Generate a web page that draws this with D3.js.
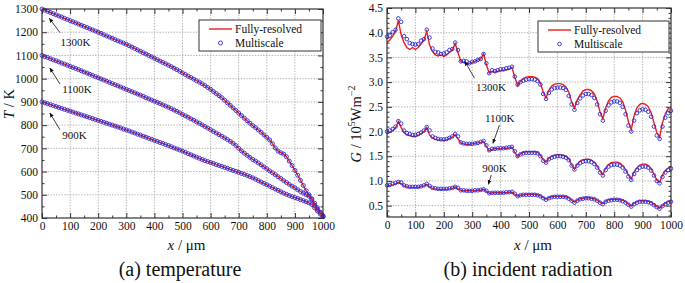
<!DOCTYPE html>
<html>
<head>
<meta charset="utf-8">
<script src="https://cdn.jsdelivr.net/npm/d3@7"></script>
<style>
  body { margin: 0; background: #fff; }
  svg { display: block; }
  svg text { font-family: "Liberation Serif", "Times New Roman", "DejaVu Serif", serif; }
</style>
</head>
<body>
<svg width="685" height="283"></svg>
<script>
// sample positions (um)
const xPos = [0,10,20,30,40,50,60,70,80,90,100,110,120,130,140,150,160,170,180,190,
  200,210,220,230,240,250,260,270,280,290,300,310,320,330,340,350,360,370,380,390,
  400,410,420,430,440,450,460,470,480,490,500,510,520,530,540,550,560,570,580,590,
  600,610,620,630,640,650,660,670,680,690,700,710,720,730,740,750,760,770,780,790,
  800,810,820,830,840,850,860,870,880,890,900,910,920,930,940,950,960,970,980,990,1000];

const xTicks = [0,100,200,300,400,500,600,700,800,900,1000];
const xMinor = [50,150,250,350,450,550,650,750,850,950];
const tTicks = [400,500,600,700,800,900,1000,1100,1200,1300];
const tMinor = [450,550,650,750,850,950,1050,1150,1250];
const gTicks = [0.5,1.0,1.5,2.0,2.5,3.0,3.5,4.0,4.5];
const gMinor = [0.3,0.4,0.6,0.7,0.8,0.9,1.1,1.2,1.3,1.4,1.6,1.7,1.8,1.9,2.1,2.2,2.3,2.4,
  2.6,2.7,2.8,2.9,3.1,3.2,3.3,3.4,3.6,3.7,3.8,3.9,4.1,4.2,4.3,4.4];

// (a) temperature, K  (fully-resolved and multiscale overlap)
const T1300 = [1300,1295,1290,1285,1280,1275,1270,1265,1260,1255,
  1250,1245,1240,1235,1230,1225,1220,1215,1210,1205,
  1200,1195,1189,1184,1179,1174,1168,1163,1158,1153,
  1148,1142,1136,1130,1124,1118,1112,1106,1100,1094,
  1088,1082,1076,1070,1064,1058,1052,1045,1039,1032,
  1025,1018,1011,1005,998,991,985,978,970,962,
  954,945,936,927,918,907,896,885,874,863,
  852,841,830,819,808,798,789,779,769,758,
  747,736,720,702,688,681,675,664,645,626,
  605,584,562,540,518,500,483,464,445,425,
  406];
const T1100 = [1100,1095,1091,1086,1081,1077,1072,1067,1063,1058,
  1053,1048,1044,1039,1034,1029,1024,1019,1014,1009,
  1004,999,994,989,984,979,974,969,964,959,
  954,949,944,939,934,929,924,918,913,908,
  903,898,893,887,882,877,871,865,859,853,
  846,840,834,827,821,814,808,801,794,787,
  780,773,766,759,752,745,738,730,722,712,
  700,689,679,670,661,652,645,637,629,620,
  612,603,595,587,578,570,561,553,545,537,
  530,522,514,507,500,494,480,455,438,424,
  410];
const T900 = [900,896,892,888,884,880,876,872,868,864,
  860,856,852,848,844,840,836,832,828,824,
  820,816,812,808,804,800,796,792,788,783,
  779,775,770,766,761,757,752,748,743,739,
  734,730,725,721,716,712,707,702,697,693,
  688,683,677,672,667,662,657,652,647,643,
  639,635,630,626,622,618,614,609,605,601,
  597,592,588,583,578,573,567,561,555,549,
  543,537,531,525,519,513,507,502,497,492,
  488,484,479,475,470,465,458,444,430,417,
  405];

// (b) incident radiation, 10^5 W/m2
const G1300Full = [3.80,3.85,3.93,4.02,4.25,3.95,3.80,3.70,3.66,3.70,
  3.66,3.70,3.77,3.85,4.03,3.75,3.62,3.55,3.53,3.55,
  3.52,3.55,3.60,3.65,3.78,3.60,3.42,3.40,3.36,3.38,
  3.40,3.42,3.45,3.47,3.57,3.35,3.18,3.22,3.20,3.22,
  3.23,3.24,3.25,3.26,3.30,3.10,2.93,3.02,3.07,3.10,
  3.11,3.11,3.10,3.07,2.98,2.80,2.68,2.84,2.92,2.96,
  2.97,2.97,2.95,2.90,2.80,2.60,2.47,2.64,2.74,2.82,
  2.85,2.85,2.83,2.76,2.62,2.40,2.26,2.48,2.62,2.69,
  2.71,2.71,2.68,2.60,2.43,2.20,2.04,2.32,2.48,2.55,
  2.57,2.55,2.50,2.38,2.18,1.98,1.88,2.18,2.36,2.46,
  2.50];
const G1300Multi = [3.92,3.94,4.01,4.06,4.29,4.22,3.93,3.87,3.79,3.77,
  3.76,3.77,3.84,3.87,4.06,3.90,3.68,3.61,3.60,3.57,
  3.58,3.60,3.65,3.67,3.80,3.65,3.42,3.43,3.42,3.38,
  3.41,3.42,3.45,3.47,3.57,3.38,3.18,3.24,3.22,3.24,
  3.26,3.26,3.28,3.29,3.31,3.11,2.95,3.00,3.03,3.05,
  3.06,3.06,3.05,3.02,2.95,2.76,2.66,2.78,2.85,2.88,
  2.89,2.89,2.88,2.84,2.72,2.55,2.44,2.58,2.67,2.73,
  2.76,2.76,2.74,2.68,2.55,2.35,2.22,2.42,2.53,2.59,
  2.61,2.61,2.58,2.50,2.35,2.12,2.00,2.22,2.37,2.43,
  2.45,2.44,2.40,2.30,2.10,1.92,1.85,2.10,2.28,2.37,
  2.42];
const G1100Full = [1.95,1.98,2.02,2.07,2.20,2.08,1.98,1.93,1.92,1.90,
  1.90,1.92,1.96,2.00,2.08,1.93,1.87,1.84,1.83,1.83,
  1.82,1.83,1.86,1.89,1.94,1.85,1.77,1.75,1.74,1.74,
  1.75,1.76,1.77,1.78,1.80,1.70,1.61,1.64,1.65,1.65,
  1.65,1.66,1.66,1.67,1.68,1.58,1.49,1.55,1.58,1.59,
  1.59,1.59,1.59,1.58,1.52,1.43,1.38,1.46,1.50,1.52,
  1.53,1.53,1.52,1.50,1.45,1.33,1.24,1.34,1.40,1.43,
  1.44,1.44,1.42,1.38,1.30,1.20,1.13,1.26,1.33,1.37,
  1.38,1.38,1.36,1.31,1.23,1.12,1.04,1.18,1.27,1.32,
  1.34,1.34,1.31,1.25,1.14,1.02,0.97,1.12,1.21,1.26,
  1.29];
const G1100Multi = [2.00,2.02,2.05,2.10,2.21,2.16,2.02,1.97,1.95,1.93,
  1.93,1.95,1.98,2.02,2.09,2.02,1.90,1.87,1.85,1.84,
  1.84,1.85,1.87,1.90,1.95,1.90,1.78,1.76,1.75,1.75,
  1.75,1.76,1.77,1.79,1.81,1.72,1.62,1.65,1.65,1.66,
  1.66,1.66,1.67,1.68,1.69,1.60,1.50,1.54,1.56,1.57,
  1.57,1.57,1.57,1.56,1.50,1.41,1.37,1.44,1.47,1.49,
  1.50,1.50,1.49,1.47,1.42,1.31,1.23,1.31,1.36,1.39,
  1.40,1.40,1.38,1.34,1.27,1.17,1.11,1.22,1.29,1.32,
  1.33,1.33,1.31,1.27,1.19,1.09,1.02,1.14,1.22,1.27,
  1.29,1.29,1.27,1.21,1.11,1.00,0.95,1.08,1.17,1.22,
  1.25];
const G900Full = [0.90,0.91,0.92,0.94,0.97,0.94,0.90,0.88,0.87,0.87,
  0.87,0.87,0.89,0.90,0.93,0.88,0.85,0.84,0.83,0.83,
  0.83,0.83,0.84,0.85,0.88,0.84,0.81,0.80,0.80,0.80,
  0.80,0.80,0.81,0.81,0.83,0.79,0.75,0.76,0.76,0.76,
  0.76,0.76,0.76,0.77,0.77,0.73,0.69,0.71,0.72,0.73,
  0.73,0.73,0.73,0.72,0.70,0.66,0.63,0.66,0.68,0.69,
  0.69,0.69,0.69,0.68,0.66,0.61,0.57,0.61,0.64,0.65,
  0.66,0.66,0.65,0.64,0.61,0.57,0.54,0.59,0.62,0.63,
  0.63,0.63,0.62,0.61,0.58,0.53,0.49,0.55,0.58,0.60,
  0.60,0.60,0.59,0.57,0.53,0.48,0.45,0.50,0.55,0.58,
  0.60];
const G900Multi = [0.91,0.92,0.94,0.96,0.98,0.97,0.91,0.89,0.88,0.88,
  0.88,0.88,0.89,0.91,0.94,0.90,0.86,0.85,0.84,0.84,
  0.84,0.84,0.85,0.86,0.88,0.86,0.81,0.81,0.80,0.80,
  0.80,0.81,0.81,0.82,0.83,0.80,0.75,0.76,0.76,0.76,
  0.76,0.76,0.77,0.77,0.78,0.74,0.69,0.71,0.72,0.72,
  0.72,0.72,0.72,0.71,0.69,0.65,0.62,0.65,0.67,0.68,
  0.68,0.68,0.68,0.67,0.64,0.60,0.56,0.60,0.63,0.64,
  0.65,0.65,0.64,0.63,0.60,0.56,0.53,0.58,0.60,0.61,
  0.62,0.62,0.61,0.59,0.56,0.52,0.48,0.53,0.56,0.58,
  0.58,0.58,0.57,0.55,0.51,0.47,0.44,0.49,0.53,0.56,
  0.58];

const legendNames = ['Fully-resolved', 'Multiscale'];
const RED = '#ee1c1c', BLUE = '#2b2bd6', AXIS = '#333';
const SERIF = 'Liberation Serif';

const svg = d3.select('svg');

svg.append('defs').append('marker')
    .attr('id', 'arrow')
    .attr('viewBox', '0 0 10 10')
    .attr('refX', 9).attr('refY', 5)
    .attr('markerWidth', 6).attr('markerHeight', 6)
    .attr('orient', 'auto')
  .append('path')
    .attr('d', 'M0,1 L10,5 L0,9 Z')
    .attr('fill', '#111');

const drawPanel = p => {
    const xScale = d3.scaleLinear().domain([0, 1000]).range([p.left, p.right]);
    const yScale = d3.scaleLinear().domain(p.yDomain).range([p.bottom, p.top]);
    const g = svg.append('g').attr('font-family', SERIF);

    // dotted grid
    g.append('g').selectAll('line')
        .data(xTicks.slice(1, -1))
        .enter().append('line')
            .attr('x1', d => xScale(d)).attr('x2', d => xScale(d))
            .attr('y1', p.top).attr('y2', p.bottom);
    g.append('g').selectAll('line')
        .data(p.yGrid)
        .enter().append('line')
            .attr('x1', p.left).attr('x2', p.right)
            .attr('y1', d => yScale(d)).attr('y2', d => yScale(d));
    g.selectAll('line')
        .attr('stroke', '#a0a0a0')
        .attr('stroke-width', 0.8)
        .attr('stroke-dasharray', '1.4,1.4');

    // axes, ticks pointing inward on all four sides
    const axes = [
        [d3.axisBottom(xScale).tickValues(xTicks).tickFormat(d3.format('d')), `translate(0,${p.bottom})`, -5],
        [d3.axisBottom(xScale).tickValues(xMinor).tickFormat(''), `translate(0,${p.bottom})`, -2.5],
        [d3.axisTop(xScale).tickValues(xTicks).tickFormat(''), `translate(0,${p.top})`, -5],
        [d3.axisTop(xScale).tickValues(xMinor).tickFormat(''), `translate(0,${p.top})`, -2.5],
        [d3.axisLeft(yScale).tickValues(p.yTicks).tickFormat(p.yFormat), `translate(${p.left},0)`, -5],
        [d3.axisLeft(yScale).tickValues(p.yMinor).tickFormat(''), `translate(${p.left},0)`, -2.5],
        [d3.axisRight(yScale).tickValues(p.yTicks).tickFormat(''), `translate(${p.right},0)`, -5],
        [d3.axisRight(yScale).tickValues(p.yMinor).tickFormat(''), `translate(${p.right},0)`, -2.5]
    ];
    axes.forEach(([axis, tr, size]) => {
        const a = g.append('g')
            .attr('transform', tr)
            .call(axis.tickSize(size).tickPadding(4));
        a.select('.domain').remove();
        a.selectAll('line').attr('stroke', AXIS).attr('stroke-width', 1);
        a.attr('font-family', SERIF).attr('font-size', 11.5)
            .selectAll('text').attr('fill', '#111');
    });

    // lines, then hollow markers on top
    const line = d3.line()
        .x((d, i) => xScale(xPos[i]))
        .y(d => yScale(d));

    p.series.forEach(s => {
        g.append('path')
            .datum(s.full)
            .attr('d', line)
            .attr('fill', 'none')
            .attr('stroke', RED)
            .attr('stroke-width', 1.4);
        g.append('g').selectAll('circle')
            .data(s.multi)
            .enter().append('circle')
                .attr('cx', (d, i) => xScale(xPos[i]))
                .attr('cy', d => yScale(d))
                .attr('r', p.r)
                .attr('fill', 'none')
                .attr('stroke', BLUE)
                .attr('stroke-width', 0.9);
    });

    // frame
    g.append('rect')
        .attr('x', p.left).attr('y', p.top)
        .attr('width', p.right - p.left).attr('height', p.bottom - p.top)
        .attr('fill', 'none')
        .attr('stroke', AXIS)
        .attr('stroke-width', 1.2);

    // annotations
    p.notes.forEach(n => {
        g.append('line')
            .attr('x1', xScale(n.from[0])).attr('y1', yScale(n.from[1]))
            .attr('x2', xScale(n.to[0])).attr('y2', yScale(n.to[1]))
            .attr('stroke', '#111')
            .attr('stroke-width', 0.8)
            .attr('marker-end', 'url(#arrow)');
        g.append('text')
            .attr('x', xScale(n.at[0])).attr('y', yScale(n.at[1]))
            .attr('font-size', 11)
            .attr('fill', '#111')
            .text(n.label);
    });

    // legend
    const lg = g.append('g')
        .attr('transform', `translate(${p.legend[0]},${p.legend[1]})`);
    lg.append('rect')
        .attr('width', p.legend[2]).attr('height', 31)
        .attr('fill', '#fff')
        .attr('stroke', AXIS)
        .attr('stroke-width', 1);
    lg.append('line')
        .attr('x1', 10).attr('x2', 33)
        .attr('y1', 9).attr('y2', 9)
        .attr('stroke', RED).attr('stroke-width', 1.4);
    lg.append('circle')
        .attr('cx', 21.5).attr('cy', 23)
        .attr('r', p.r)
        .attr('fill', 'none')
        .attr('stroke', BLUE).attr('stroke-width', 0.9);
    lg.selectAll('text')
        .data(legendNames)
        .enter().append('text')
            .attr('x', 36)
            .attr('y', (d, i) => 12.5 + i * 14)
            .attr('font-size', 11.5)
            .attr('fill', '#111')
            .text(d => d);

    // x axis title
    const xt = g.append('text')
        .attr('x', (p.left + p.right) / 2 + 4)
        .attr('y', 250)
        .attr('text-anchor', 'middle')
        .attr('font-size', 15)
        .attr('fill', '#111');
    xt.append('tspan').attr('font-style', 'italic').text('x');
    xt.append('tspan').text(' / \u03bcm');

    // y axis title
    const yt = g.append('text')
        .attr('transform', `translate(${p.yLabelX},${p.yLabelY}) rotate(-90)`)
        .attr('text-anchor', 'middle')
        .attr('font-size', 14.5)
        .attr('fill', '#111');
    p.yLabel(yt);

    // caption
    g.append('text')
        .attr('x', p.captionX).attr('y', 276)
        .attr('text-anchor', 'middle')
        .attr('font-size', 20)
        .attr('fill', '#111')
        .text(p.caption);
};

drawPanel({
    left: 42, right: 323, top: 9, bottom: 218,
    yDomain: [400, 1300],
    yTicks: tTicks, yMinor: tMinor, yGrid: tTicks.slice(1, -1),
    yFormat: d3.format('d'),
    r: 2,
    series: [
        {full: T1300, multi: T1300},
        {full: T1100, multi: T1100},
        {full: T900, multi: T900}
    ],
    notes: [
        {label: '1300K', at: [66, 1142], from: [64, 1198], to: [26, 1260]},
        {label: '1100K', at: [72, 937], from: [64, 977], to: [28, 1046]},
        {label: '900K', at: [72, 740], from: [64, 780], to: [28, 852]}
    ],
    legend: [199, 20, 122],
    yLabelX: 14, yLabelY: 104,
    yLabel: t => {
        t.append('tspan').attr('font-style', 'italic').text('T');
        t.append('tspan').text(' / K');
    },
    caption: '(a) temperature', captionX: 180
});

drawPanel({
    left: 387, right: 671, top: 8, bottom: 217,
    yDomain: [0.27, 4.5],
    yTicks: gTicks, yMinor: gMinor, yGrid: gTicks.slice(0, -1),
    yFormat: d3.format('.1f'),
    r: 1.8,
    series: [
        {full: G1300Full, multi: G1300Multi},
        {full: G1100Full, multi: G1100Multi},
        {full: G900Full, multi: G900Multi}
    ],
    notes: [
        {label: '1300K', at: [313, 2.82], from: [308, 3.08], to: [274, 3.42]},
        {label: '1100K', at: [345, 2.2], from: [396, 2.13], to: [373, 1.76]},
        {label: '900K', at: [335, 1.19], from: [367, 1.12], to: [357, 0.93]}
    ],
    legend: [538, 21, 131],
    yLabelX: 361, yLabelY: 124,
    yLabel: t => {
        t.append('tspan').attr('font-style', 'italic').text('G');
        t.append('tspan').text(' / 10');
        t.append('tspan').attr('font-size', 10).attr('dy', -6).text('5');
        t.append('tspan').attr('dy', 6).text('Wm');
        t.append('tspan').attr('font-size', 10).attr('dy', -6).text('\u22122');
    },
    caption: '(b) incident radiation', captionX: 528
});
</script>
</body>
</html>
